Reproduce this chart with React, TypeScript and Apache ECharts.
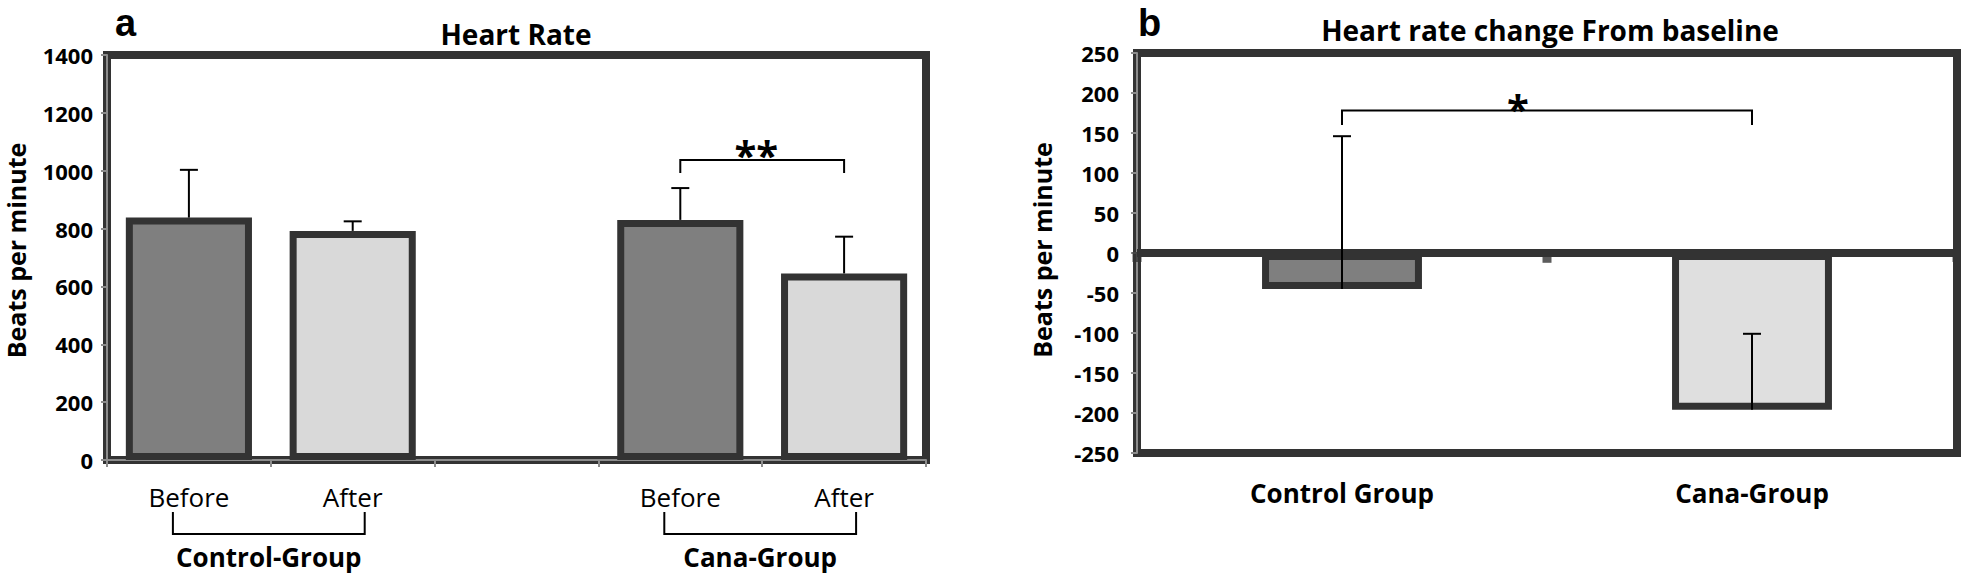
import React, { useEffect, useRef } from "react";
import * as echarts from "echarts";

const FONT = '"Open Sans", "Noto Sans", sans-serif';
const LETTER_FONT = '"Liberation Sans", Arial, sans-serif';

// ---------- Panel a : Heart Rate ----------
const categoriesA = ["Before", "After", "", "Before", "After"];
const heartRate = [838, 792, null, 830, 645];
const heartRateErr = [165, 33, null, 110, 127];
const barColorsA = ["#7f7f7f", "#d9d9d9", "#7f7f7f", "#7f7f7f", "#d9d9d9"];
const yMinA = 0;
const yMaxA = 1400;
const yStepA = 200;
const groupNamesA = ["Control-Group", "Cana-Group"];
const groupSpansA = [[0, 1], [3, 4]];
// [fromIndex, toIndex, bracketValue, bracketEndValue]
const sigA = [[3, 4, 1037, 992]];
const sigLabelsA = ["**"];

// ---------- Panel b : Heart rate change From baseline ----------
const categoriesB = ["Control Group", "Cana-Group"];
const hrChange = [-45, -196];
const hrChangeErr = [191, 95];
const barColorsB = ["#7f7f7f", "#dfdfdf"];
const yMinB = -250;
const yMaxB = 250;
const yStepB = 50;
const sigB = [[0, 1, 178, 160]];
const sigLabelsB = ["*"];
const markerX = [0, 0.5, 1];
const markerY = [-5, -6, -5];

const errRender = (params: any, api: any) => {
  const x = api.value(0);
  const v = api.value(1);
  const e = api.value(2);
  const p0 = api.coord([x, v]);
  const p1 = api.coord([x, v + e]);
  return {
    type: "group",
    children: [
      { type: "line", shape: { x1: p0[0], y1: p0[1], x2: p1[0], y2: p1[1] }, style: { stroke: "#000", lineWidth: 2 } },
      { type: "line", shape: { x1: p1[0] - 9, y1: p1[1], x2: p1[0] + 9, y2: p1[1] }, style: { stroke: "#000", lineWidth: 2 } },
    ],
  };
};

const sigRender = (labels: string[], dx: number, fontSize: number, dy: number) => (params: any, api: any) => {
  const a = api.value(0);
  const b = api.value(1);
  const y = api.value(2);
  const y2 = api.value(3);
  const pA = api.coord([a, y]);
  const pB = api.coord([b, y]);
  const pE = api.coord([a, y2]);
  const cx = (pA[0] + pB[0]) / 2 + dx;
  return {
    type: "group",
    children: [
      {
        type: "polyline",
        shape: { points: [[pA[0], pE[1]], [pA[0], pA[1]], [pB[0], pB[1]], [pB[0], pE[1]]] },
        style: { stroke: "#000", lineWidth: 2, fill: null },
      },
      {
        type: "text",
        style: {
          text: labels[params.dataIndex],
          x: cx,
          y: pA[1] + dy,
          align: "center",
          textAlign: "center",
          verticalAlign: "middle",
          textVerticalAlign: "middle",
          font: `bold ${fontSize}px ${FONT}`,
          lineHeight: fontSize * 0.6,
          fill: "#000",
        },
      },
    ],
  };
};

const groupRender = (params: any, api: any) => {
  const s = api.value(0);
  const e = api.value(1);
  const p0 = api.coord([s, 0]);
  const p1 = api.coord([e, 0]);
  const y0 = p0[1];
  const xl = p0[0] - 16;
  const xr = p1[0] + 12;
  return {
    type: "group",
    children: [
      {
        type: "polyline",
        shape: { points: [[xl, y0 + 52], [xl, y0 + 74], [xr, y0 + 74], [xr, y0 + 52]] },
        style: { stroke: "#000", lineWidth: 2, fill: null },
      },
      {
        type: "text",
        style: {
          text: groupNamesA[params.dataIndex],
          x: (xl + xr) / 2,
          y: y0 + 97,
          align: "center",
          textAlign: "center",
          verticalAlign: "middle",
          textVerticalAlign: "middle",
          font: `bold 26px ${FONT}`,
          fill: "#000",
        },
      },
    ],
  };
};

const textEl = (text: string, x: number, y: number, size: number, align: string, family: string) => ({
  type: "text",
  x,
  y,
  style: {
    text,
    align,
    textAlign: align,
    verticalAlign: "middle",
    textVerticalAlign: "middle",
    font: `bold ${size}px ${family}`,
    lineHeight: Math.round(size * 0.8),
    fill: "#000",
  },
});

const plainNum = (v: number) => String(v);

export default function App() {
  const ref = useRef<HTMLDivElement>(null);
  useEffect(() => {
    if (!ref.current) return;
    const chart = echarts.init(ref.current, undefined, { renderer: "svg" });
    const axisGray = "#8c8c8c";
    const nameStyle = (pad: number) => ({
      fontSize: 25,
      fontWeight: "bold",
      color: "#000",
      fontFamily: FONT,
      lineHeight: 24,
      padding: [0, 0, 0, pad],
    });
    const option: any = {
      animation: false,
      backgroundColor: "#ffffff",
      textStyle: { fontFamily: FONT },
      grid: [
        { left: 107, top: 55, width: 819, height: 405, show: true, borderColor: "#333", borderWidth: 8, backgroundColor: "transparent" },
        { left: 1137, top: 53, width: 820, height: 400, show: true, borderColor: "#333", borderWidth: 8, backgroundColor: "transparent" },
      ],
      graphic: [
        textEl("a", 115, 22.5, 38, "left", LETTER_FONT),
        textEl("Heart Rate", 516, 34, 28, "center", FONT),
        textEl("b", 1138, 22.5, 38, "left", LETTER_FONT),
        textEl("Heart rate change From baseline", 1550, 30, 28, "center", FONT),
      ],
      xAxis: [
        {
          type: "category",
          gridIndex: 0,
          data: categoriesA,
          axisLine: { show: true, onZero: false, lineStyle: { color: axisGray, width: 2 } },
          axisTick: { show: true, interval: 0, length: 7, lineStyle: { color: axisGray, width: 2 } },
          axisLabel: { interval: 0, margin: 24, fontSize: 26, color: "#000", fontFamily: FONT },
        },
        {
          type: "category",
          gridIndex: 1,
          data: categoriesB,
          position: "bottom",
          axisLine: { show: false, onZero: false },
          axisTick: { show: false },
          axisLabel: { interval: 0, margin: 27, fontSize: 26, fontWeight: "bold", color: "#000", fontFamily: FONT },
        },
        { type: "value", gridIndex: 1, min: 0, max: 1, show: false },
      ],
      yAxis: [
        {
          type: "value",
          gridIndex: 0,
          min: yMinA,
          max: yMaxA,
          interval: yStepA,
          splitLine: { show: false },
          axisLine: { show: true, lineStyle: { color: axisGray, width: 2 } },
          axisTick: { show: true, length: 6, lineStyle: { color: axisGray, width: 2 } },
          axisLabel: { margin: 14, fontSize: 22, fontWeight: "bold", color: "#000", fontFamily: FONT, formatter: plainNum },
          name: "Beats per minute",
          nameLocation: "middle",
          nameRotate: 90,
          nameGap: 79,
          nameTextStyle: nameStyle(14),
        },
        {
          type: "value",
          gridIndex: 1,
          min: yMinB,
          max: yMaxB,
          interval: yStepB,
          splitLine: { show: false },
          axisLine: { show: true, lineStyle: { color: axisGray, width: 2 } },
          axisTick: { show: true, length: 6, lineStyle: { color: axisGray, width: 2 } },
          axisLabel: { margin: 18, fontSize: 22, fontWeight: "bold", color: "#000", fontFamily: FONT, formatter: plainNum },
          name: "Beats per minute",
          nameLocation: "middle",
          nameRotate: 90,
          nameGap: 83,
          nameTextStyle: nameStyle(6),
        },
      ],
      series: [
        {
          type: "bar",
          xAxisIndex: 0,
          yAxisIndex: 0,
          barWidth: "77%",
          data: heartRate.map((v, i) => ({ value: v == null ? "-" : v, itemStyle: { color: barColorsA[i] } })),
          itemStyle: { borderColor: "#333", borderWidth: 7 },
          z: 2,
        },
        {
          type: "custom",
          xAxisIndex: 0,
          yAxisIndex: 0,
          renderItem: errRender,
          encode: { x: 0, y: 1 },
          data: heartRate
            .map((v, i) => (v == null ? null : [i, v, heartRateErr[i] as number]))
            .filter((d) => d !== null),
          z: 5,
        },
        {
          type: "custom",
          xAxisIndex: 0,
          yAxisIndex: 0,
          renderItem: sigRender(sigLabelsA, -6, 40, -6),
          encode: { x: [0, 1], y: [2, 3] },
          data: sigA,
          z: 5,
        },
        {
          type: "custom",
          xAxisIndex: 0,
          yAxisIndex: 0,
          renderItem: groupRender,
          encode: { x: [0, 1], y: 2 },
          data: groupSpansA.map((s) => [s[0], s[1], 0]),
          clip: false,
          z: 5,
        },
        {
          type: "bar",
          xAxisIndex: 1,
          yAxisIndex: 1,
          barWidth: "39%",
          data: hrChange.map((v, i) => ({ value: v, itemStyle: { color: barColorsB[i] } })),
          itemStyle: { borderColor: "#333", borderWidth: 7 },
          markLine: {
            silent: true,
            symbol: "none",
            label: { show: false },
            lineStyle: { color: "#333", width: 8, type: "solid" },
            data: [{ yAxis: 0 }],
          },
          z: 2,
        },
        {
          type: "custom",
          xAxisIndex: 1,
          yAxisIndex: 1,
          renderItem: errRender,
          encode: { x: 0, y: 1 },
          data: hrChange.map((v, i) => [i, v, hrChangeErr[i]]),
          z: 5,
        },
        {
          type: "custom",
          xAxisIndex: 1,
          yAxisIndex: 1,
          renderItem: sigRender(sigLabelsB, -29, 40, -2),
          encode: { x: [0, 1], y: [2, 3] },
          data: sigB,
          z: 5,
        },
        {
          type: "scatter",
          xAxisIndex: 2,
          yAxisIndex: 1,
          symbol: "rect",
          symbolSize: [9, 10],
          itemStyle: { color: "#333" },
          data: markerX.map((x, i) => [x, markerY[i]]),
          z: 4,
        },
      ],
    };
    chart.setOption(option);
    return () => chart.dispose();
  }, []);
  return <div ref={ref} style={{ position: "absolute", left: 0, top: 0, width: 1961, height: 578 }} />;
}
